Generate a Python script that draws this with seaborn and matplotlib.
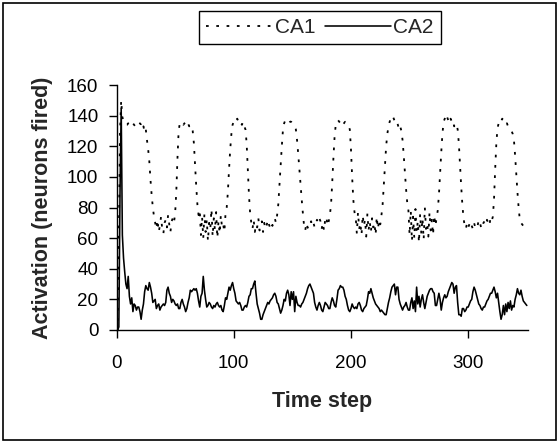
import numpy as np
import pandas as pd
import matplotlib
matplotlib.use("Agg")
import matplotlib.pyplot as plt
from matplotlib.patches import Rectangle
import seaborn as sns

# ---------------- data ----------------
ca1 = [
    0, 0, 60, 130, 150, 139, 137, 135, 134, 134,
    135, 134, 133, 134, 135, 134, 133, 134, 135, 134,
    135, 134, 131, 133, 129, 131,
    124, 118, 110, 98, 88, 80, 74,
    70, 66, 72, 64, 68, 74, 66, 63, 70, 72, 67, 75, 69, 64, 71, 73, 70,
    76, 90, 112, 130, 135,
    136, 135, 134, 135, 136, 134, 135, 133, 134, 133,
    130, 122, 108, 94, 82, 75,
    78, 62, 74, 60, 76, 64, 72, 58, 70, 66, 79, 61, 73, 65, 77, 60, 71, 63, 75, 67, 69, 64, 76,
    80, 90, 105, 118, 128, 134,
    136, 135, 137, 138, 136, 137, 135, 134, 136, 133, 131,
    122, 105, 88, 76,
    70, 66, 72, 64, 69, 67, 73, 65, 68, 71, 64, 70, 66, 68, 72, 69, 67, 70, 68, 71, 73, 70, 75,
    82, 95, 108, 120, 131,
    135, 137, 136, 137, 137, 136, 136, 135, 134, 133, 131,
    124, 115, 105, 95, 85, 76,
    68, 65, 70, 67, 66, 69, 71, 68, 70, 67, 69, 72, 70, 73, 71, 66, 70, 65, 72, 74, 68, 71, 75,
    82, 96, 112, 126, 134,
    136, 137, 136, 135, 136, 134, 135, 136, 135, 134, 133, 131,
    118, 100, 85, 77,
    74, 63, 77, 66, 70, 62, 75, 68, 72, 61, 76, 65, 71, 64, 73, 67, 70, 62, 74, 66, 72, 69, 75,
    82, 95, 108, 120, 128, 133,
    136, 138, 140, 139, 137, 135, 136, 134, 131, 133, 130,
    124, 114, 103, 92, 83, 78,
    62, 78, 58, 74, 60, 79, 64, 71, 57, 76, 63, 73, 59, 80, 66, 70, 61, 77, 65, 72, 62, 75, 68, 73, 78,
    88, 102, 116, 128, 136,
    138, 141, 139, 137, 135, 138, 136, 137, 133, 135, 134, 131,
    122, 108, 94, 82, 73,
    68, 66, 70, 67, 69, 71, 68, 66, 70, 67, 69, 68, 72, 70, 67, 66, 70, 71, 69, 72, 70, 68, 73, 71, 74,
    85, 105, 122, 132,
    135, 137, 136, 138, 137, 136, 134, 135, 133, 132, 131, 130, 128,
    124, 114, 102, 90, 80,
    72, 70, 69, 68, 70, 69, 68,
]

ca2 = [
    0, 0, 2, 90, 145, 62, 47, 38, 30, 27,
    35, 22, 17, 21, 12, 17, 16, 13, 15, 15,
    12, 7, 13, 17, 25, 29, 27, 26, 31, 28,
    24, 18, 19, 20, 14, 16, 17, 13, 15, 16,
    17, 16, 18, 26, 28, 24, 22, 18, 20, 19,
    17, 16, 17, 14, 14, 18, 20, 17, 15, 12,
    14, 18, 21, 26, 25, 26, 27, 26, 27, 24,
    19, 15, 22, 24, 35, 26, 20, 15, 16, 18,
    17, 15, 14, 16, 15, 17, 18, 16, 15, 16,
    13, 12, 16, 21, 20, 24, 28, 26, 29, 31,
    27, 24, 19, 18, 17, 18, 16, 13, 13, 15,
    16, 15, 18, 22, 23, 27, 27, 30, 32, 24,
    17, 14, 11, 7, 7, 10, 12, 14, 16, 18,
    17, 19, 20, 21, 23, 24, 22, 18, 17, 14,
    11, 13, 16, 20, 19, 24, 26, 23, 16, 25,
    20, 25, 12, 22, 18, 16, 16, 15, 17, 18,
    20, 22, 24, 27, 29, 30, 28, 26, 24, 18,
    15, 13, 16, 18, 16, 13, 12, 15, 18, 17,
    16, 14, 14, 18, 21, 19, 16, 15, 20, 26,
    27, 29, 28, 28, 26, 22, 20, 16, 13, 12,
    14, 17, 15, 14, 15, 14, 17, 18, 16, 13,
    12, 14, 15, 16, 20, 25, 24, 27, 24, 21,
    19, 17, 16, 15, 14, 12, 13, 12, 11, 10,
    10, 14, 18, 21, 25, 28, 29, 30, 23, 28,
    28, 20, 17, 15, 13, 15, 16, 18, 15, 13,
    13, 18, 21, 14, 19, 12, 28, 17, 22, 15,
    20, 23, 18, 14, 18, 22, 24, 26, 27, 27,
    25, 24, 16, 16, 20, 24, 20, 13, 18, 21,
    23, 21, 22, 25, 27, 29, 31, 30, 24, 28,
    29, 18, 10, 10, 9, 14, 14, 12, 13, 15,
    15, 17, 19, 20, 25, 28, 26, 23, 20, 17,
    16, 14, 13, 15, 15, 17, 19, 20, 22, 24,
    24, 26, 28, 25, 21, 24, 18, 12, 7, 10,
    16, 10, 17, 12, 18, 14, 19, 13, 16, 15,
    20, 23, 27, 24, 23, 26, 22, 19, 18, 17,
    16,
]

series_names = ["CA1", "CA2"]
x_ticks = [0, 100, 200, 300]
y_ticks = [0, 20, 40, 60, 80, 100, 120, 140, 160]

df1 = pd.DataFrame({"t": np.arange(len(ca1)), "v": ca1})
df2 = pd.DataFrame({"t": np.arange(len(ca2)), "v": ca2})

# ---------------- style ----------------
sns.set_theme(style="ticks")
plt.rcParams["font.family"] = ["Liberation Sans", "DejaVu Sans"]

fig = plt.figure(figsize=(5.6, 4.45), dpi=100)
fig.patch.set_facecolor("white")
ax = fig.add_axes([116.5 / 560, 115 / 445, 411.5 / 560, 245 / 445])
ax.set_facecolor("white")

sns.lineplot(data=df1, x="t", y="v", ax=ax, color="black", linewidth=1.3,
             linestyle=(0, (1.5, 4.2)), label=series_names[0], legend=False)
sns.lineplot(data=df2, x="t", y="v", ax=ax, color="black", linewidth=1.15,
             linestyle="-", label=series_names[1], legend=False)

ax.set_xlim(0, 351)
ax.set_ylim(0, 160)
ax.set_xticks(x_ticks)
ax.set_yticks(y_ticks)
ax.tick_params(axis="both", direction="out", length=6, width=1.0, color="black",
               labelsize=13.5, labelcolor="black")
ax.tick_params(axis="x", pad=12)
ax.tick_params(axis="y", pad=7)
for s in ["top", "right"]:
    ax.spines[s].set_visible(False)
for s in ["left", "bottom"]:
    ax.spines[s].set_color("black")
    ax.spines[s].set_linewidth(1.0)

ax.set_xlabel("Time step", fontsize=15.5, fontweight="bold", labelpad=14)
ax.set_ylabel("Activation (neurons fired)", fontsize=15.5, fontweight="bold", labelpad=10)

handles = ax.get_lines()[:2]
leg = fig.legend(handles, series_names, loc="center", bbox_to_anchor=(320 / 560, 1 - 27.5 / 445),
                 ncol=2, frameon=True, fancybox=False, shadow=False, edgecolor="black",
                 framealpha=1, fontsize=15, handlelength=3.2, handletextpad=0.1,
                 columnspacing=0.45, borderpad=0.35, borderaxespad=0)
leg.get_frame().set_linewidth(1.0)

# figure outline
fig.patches.append(Rectangle((3 / 560, 5 / 445), 553 / 560, 437 / 445, transform=fig.transFigure,
                             fill=False, edgecolor="black", linewidth=1.2))

fig.savefig("out.png", dpi=100, facecolor="white")
